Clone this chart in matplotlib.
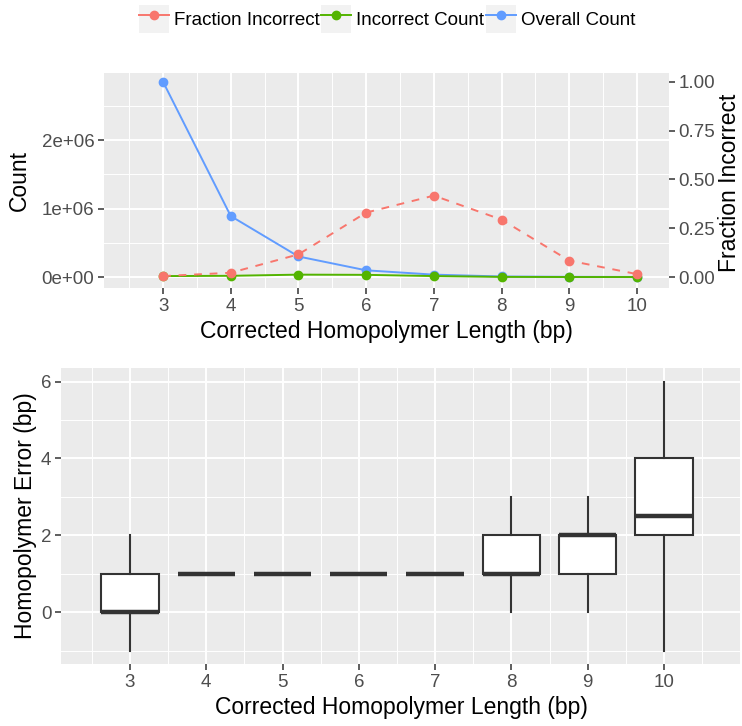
import matplotlib
matplotlib.use("Agg")
import matplotlib.pyplot as plt
from matplotlib.legend_handler import HandlerLine2D
from matplotlib.patches import Rectangle
from matplotlib.lines import Line2D
from matplotlib.ticker import MultipleLocator, FuncFormatter

plt.rcParams['font.family'] = ['Liberation Sans', 'DejaVu Sans']

# top panel data
lengths = [3, 4, 5, 6, 7, 8, 9, 10]
overall_count = [2.85e6, 0.89e6, 0.30e6, 0.098e6, 0.035e6, 0.008e6, 0.003e6, 0.001e6]
incorrect_count = [0.014e6, 0.018e6, 0.035e6, 0.032e6, 0.014e6, 0.002e6, 0.0003e6, 0.00001e6]
fraction_incorrect = [0.005, 0.022, 0.116, 0.33, 0.417, 0.294, 0.084, 0.015]

# bottom panel data (boxplot stats)
box_low = [-1, 1, 1, 1, 1, 0, 0, -1]
box_q1 = [0, 1, 1, 1, 1, 1, 1, 2]
box_med = [0, 1, 1, 1, 1, 1, 2, 2.5]
box_q3 = [1, 1, 1, 1, 1, 2, 2, 4]
box_high = [2, 1, 1, 1, 1, 3, 3, 6]

RED = '#F8766D'
GREEN = '#53B400'
BLUE = '#619CFF'
BG = '#EBEBEB'
TICKC = '#4D4D4D'
DARK = '#333333'

max_count = max(overall_count)


def gg_style(ax):
    ax.set_facecolor(BG)
    for s in ax.spines.values():
        s.set_visible(False)
    ax.grid(which='major', color='white', lw=1.4)
    ax.grid(which='minor', color='white', lw=0.7)
    ax.set_axisbelow(True)
    ax.tick_params(which='major', length=4, width=1.1, color=DARK,
                   labelsize=13.5, labelcolor=TICKC, pad=3)
    ax.tick_params(which='minor', length=0)


fig = plt.figure(figsize=(7.42, 7.26), dpi=100)

# ---- top panel
ax = fig.add_axes([104/742, 1-288/726, (669-104)/742, (288-73)/726])
gg_style(ax)
ax.plot(lengths, overall_count, color=BLUE, lw=1.4, marker='o', ms=6, zorder=3)
ax.plot(lengths, incorrect_count, color=GREEN, lw=1.4, marker='o', ms=6, zorder=3)
ax.plot(lengths, [f * max_count for f in fraction_incorrect], color=RED, lw=1.4,
        ls=(0, (4, 4)), marker='o', ms=6, zorder=4)
ax.set_xlim(2.128, 10.473)
ax.set_ylim(-0.16e6, 2.978e6)
ax.xaxis.set_major_locator(MultipleLocator(1))
ax.xaxis.set_minor_locator(MultipleLocator(0.5))
ax.yaxis.set_major_locator(MultipleLocator(1e6))
ax.yaxis.set_minor_locator(MultipleLocator(0.5e6))
ax.yaxis.set_major_formatter(FuncFormatter(lambda v, p: '%de+06' % round(v/1e6) if v else '0e+00'))
ax.set_xlabel('Corrected Homopolymer Length (bp)', fontsize=16.5, labelpad=4)
ax.set_ylabel('Count', fontsize=16.5, labelpad=8)

sec = ax.secondary_yaxis('right', functions=(lambda c: c / max_count, lambda f: f * max_count))
sec.spines['right'].set_visible(False)
sec.set_yticks([0, 0.25, 0.5, 0.75, 1.0])
sec.yaxis.set_major_formatter(FuncFormatter(lambda v, p: '%.2f' % v))
sec.tick_params(length=4, width=1.1, color=DARK, labelsize=13.5, labelcolor=TICKC, pad=3)
fig.text(730/742, 1-183/726, 'Fraction Incorrect', rotation=90, ha='center', va='center',
         fontsize=16.5)

# ---- bottom panel
bx = fig.add_axes([61/742, 1-664/726, (741-61)/742, (664-367.7)/726])
gg_style(bx)
stats = []
for i in range(len(lengths)):
    stats.append({'whislo': box_low[i], 'q1': box_q1[i], 'med': box_med[i],
                  'q3': box_q3[i], 'whishi': box_high[i], 'fliers': []})
bx.bxp(stats, positions=lengths, widths=0.75, patch_artist=True, showcaps=False,
       showfliers=False, manage_ticks=False,
       boxprops=dict(facecolor='white', edgecolor=DARK, lw=1.5),
       whiskerprops=dict(color=DARK, lw=1.5),
       medianprops=dict(color=DARK, lw=3.2, solid_capstyle='butt'))
bx.set_xlim(2.096, 11.01)
bx.set_ylim(-1.35, 6.36)
bx.set_xticks(lengths)
bx.xaxis.set_minor_locator(MultipleLocator(0.5))
bx.yaxis.set_major_locator(MultipleLocator(2))
bx.yaxis.set_minor_locator(MultipleLocator(1))
bx.set_xlabel('Corrected Homopolymer Length (bp)', fontsize=16.5, labelpad=4)
bx.set_ylabel('Homopolymer Error (bp)', fontsize=16.5, labelpad=3)


# ---- legend with grey key boxes
class KeyHandler(HandlerLine2D):
    def create_artists(self, legend, orig_handle, xdescent, ydescent, width, height,
                       fontsize, trans):
        box = Rectangle((-xdescent, -ydescent), width, height, facecolor='#F2F2F2',
                        edgecolor='none', transform=trans)
        arts = super().create_artists(legend, orig_handle, xdescent, ydescent, width,
                                      height, fontsize, trans)
        return [box] + list(arts)


handles = [Line2D([], [], color=RED, lw=1.4, marker='o', ms=6),
           Line2D([], [], color=GREEN, lw=1.4, marker='o', ms=6),
           Line2D([], [], color=BLUE, lw=1.4, marker='o', ms=6)]
fig.legend(handles, ['Fraction Incorrect', 'Incorrect Count', 'Overall Count'],
           loc='center', bbox_to_anchor=(387/742, 1-19/726), ncol=3, frameon=False,
           fontsize=13.5, handlelength=1.6, handleheight=1.85, handletextpad=0.25,
           columnspacing=0.1, borderpad=0, borderaxespad=0,
           handler_map={Line2D: KeyHandler(numpoints=1)})

fig.savefig('out.png', dpi=100)
